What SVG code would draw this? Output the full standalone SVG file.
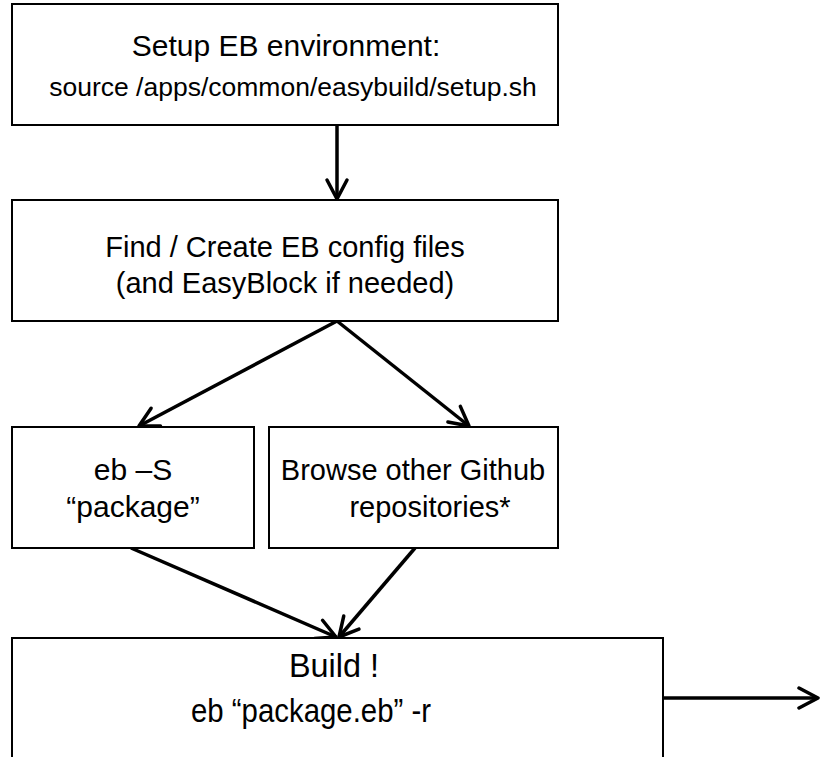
<svg xmlns="http://www.w3.org/2000/svg" width="820" height="757" viewBox="0 0 820 757">
  <defs>
    <style>
      .box { fill: #ffffff; stroke: #000000; stroke-width: 2; }
      .t { font-family: "Liberation Sans", Arial, sans-serif; font-size: 29px; fill: #000000; text-anchor: middle; }
      .t1 { font-size: 30px; }
      .t2 { font-size: 26.5px; }
      .ts { font-size: 30px; }
      .tb { font-size: 33px; }
      .conn { fill: none; stroke: #000000; stroke-width: 3.5; marker-end: url(#arr); }
    </style>
    <marker id="arr" markerUnits="userSpaceOnUse" viewBox="-24 -14 28 28" markerWidth="28" markerHeight="28" refX="0" refY="0" orient="auto" overflow="visible">
      <path d="M-19,-10 L0,0 L-19,10" fill="none" stroke="#000000" stroke-width="3.5" stroke-linecap="round" stroke-linejoin="round"/>
    </marker>
  </defs>
  <rect x="0" y="0" width="820" height="757" fill="#ffffff"/>

  <g id="connectors">
    <line class="conn" x1="337" y1="125" x2="337" y2="199"/>
    <line class="conn" x1="337" y1="321" x2="139" y2="426"/>
    <line class="conn" x1="337" y1="321" x2="469" y2="426"/>
    <line class="conn" x1="131" y1="548" x2="336" y2="637"/>
    <line class="conn" x1="415" y1="548" x2="339" y2="637"/>
    <line class="conn" x1="663" y1="698" x2="818" y2="698"/>
  </g>

  <g id="setup">
    <rect class="box" x="12" y="4" width="546" height="121"/>
    <text class="t t1" x="286" y="56">Setup EB environment:</text>
    <text class="t t2" x="293" y="96">source /apps/common/easybuild/setup.sh</text>
  </g>

  <g id="find">
    <rect class="box" x="12" y="200" width="546" height="121"/>
    <text class="t" x="285" y="257">Find / Create EB config files</text>
    <text class="t" x="285" y="293">(and EasyBlock if needed)</text>
  </g>

  <g id="search">
    <rect class="box" x="12" y="427" width="242" height="121"/>
    <text class="t ts" x="133" y="480">eb –S</text>
    <text class="t ts" x="133" y="517">“package”</text>
  </g>

  <g id="browse">
    <rect class="box" x="269" y="427" width="289" height="121"/>
    <text class="t" x="413" y="480">Browse other Github</text>
    <text class="t" x="430" y="517">repositories*</text>
  </g>

  <g id="build">
    <path class="box" d="M12,760 V638 H663 V760"/>
    <text class="t tb" x="334" y="677" textLength="90" lengthAdjust="spacingAndGlyphs">Build !</text>
    <text class="t tb" x="311" y="722" textLength="240" lengthAdjust="spacingAndGlyphs">eb “package.eb” -r</text>
  </g>
</svg>
